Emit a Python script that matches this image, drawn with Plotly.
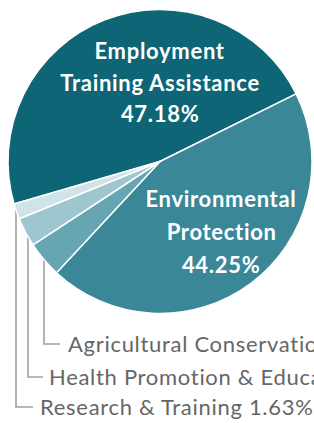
import plotly.graph_objects as go

# ---- data ----
categories = ["Employment Training Assistance", "Environmental Protection",
              "Agricultural Conservation", "Health Promotion & Education",
              "Research & Training"]
shares = [47.18, 44.25, 3.83, 3.11, 1.63]
colors = ["#0d6576", "#3a8797", "#66a5b2", "#9dc6cf", "#cfe3e8"]

W, H = 314, 423
def px(x):
    return x / W
def py(y):
    return 1 - y / H

fig = go.Figure(go.Pie(
    labels=categories, values=shares, sort=False, direction="clockwise",
    rotation=253.75, textinfo="none", hoverinfo="label+percent",
    marker=dict(colors=colors, line=dict(color="white", width=1.5)),
    domain=dict(x=[px(8), px(312)], y=[py(314), py(9)]),
    showlegend=False,
))

annos = []
def inner(text, x, y, size=22):
    annos.append(dict(text="<b>%s</b>" % text, x=px(x), y=py(y), xref="paper", yref="paper",
                      showarrow=False, xanchor="center", yanchor="middle",
                      font=dict(family="Lato", size=size, color="white")))

inner("Employment", 160, 51)
inner("Training Assistance", 160, 83)
inner("%.2f%%" % shares[0], 160, 113)
inner("Environmental", 221, 198)
inner("Protection", 221, 231)
inner("%.2f%%" % shares[1], 221, 264)

shapes = []
# outside labels with elbow leader lines
outside = [(2, 44, 344, 60, 66), (3, 28, 377, 43, 47), (4, 16, 407, 33, 38)]
for idx, lx, ly, hx, tx in outside:
    shapes.append(dict(type="path", xref="paper", yref="paper", layer="below",
                       path="M %f %f L %f %f L %f %f" % (px(lx), py(160), px(lx), py(ly), px(hx), py(ly)),
                       line=dict(color="#a0a0a0", width=1.6)))
    annos.append(dict(text="%s %.2f%%" % (categories[idx], shares[idx]), x=px(tx), y=py(ly - 1),
                      xref="paper", yref="paper", showarrow=False, xanchor="left", yanchor="middle",
                      align="left",
                      font=dict(family="Lato", size=22, color="#666666")))

fig.update_layout(width=W, height=H, margin=dict(l=0, r=0, t=0, b=0),
                  paper_bgcolor="white", plot_bgcolor="white",
                  annotations=annos, shapes=shapes)

css = ("body{margin:0;overflow:hidden}"
       ".annotation-text{letter-spacing:0.7px}")
post = ("var s=document.createElement('style');s.textContent='%s';"
        "document.head.appendChild(s);" % css)
fig.write_html("out.html", post_script=post, config={"displayModeBar": False})
